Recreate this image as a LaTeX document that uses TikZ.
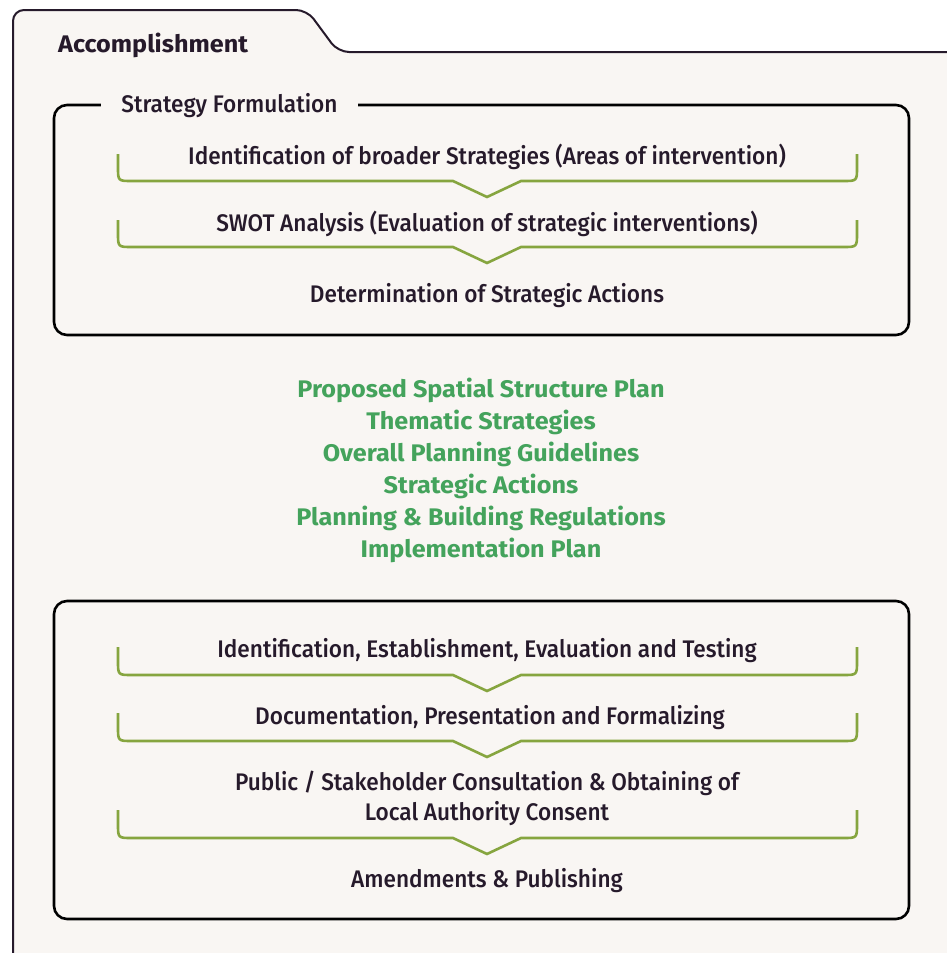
\documentclass[tikz,border=0pt]{standalone}
\usepackage{fontspec}
\setmainfont{Fira Sans}[UprightFont={* Medium}, BoldFont={* Bold}, UprightFeatures={FakeStretch=0.942}, BoldFeatures={FakeStretch=1.05}]
\definecolor{bgc}{HTML}{F9F6F3}
\definecolor{ink}{HTML}{261A2B}
\definecolor{gtext}{HTML}{44A35C}
\definecolor{gline}{HTML}{86A53F}
\tikzset{
  folder/.style={draw=ink, line width=2pt, fill=bgc, rounded corners=11pt},
  panel/.style={draw=black, line width=2.6pt, rounded corners=13pt},
  brk/.style={draw=gline, line width=2.6pt},
  body/.style={text=ink, inner sep=0pt, anchor=base, font=\fontsize{24}{28}\selectfont},
  title/.style={text=ink, inner sep=0pt, anchor=base west, font=\fontsize{24}{28}\selectfont\bfseries},
  gitem/.style={text=gtext, inner sep=0pt, anchor=base, font=\fontsize{24}{28}\selectfont\bfseries}
}
\newcommand{\brkpath}[2]{%
  \draw[brk] (118,#1) -- (118,#2-14) .. controls (118,#2) .. (132,#2) -- (453,#2) -- (487,#2+16) -- (521,#2) -- (843,#2) .. controls (857,#2) .. (857,#2-14) -- (857,#1);}
\begin{document}
\begin{tikzpicture}[x=1pt,y=-1pt]
\useasboundingbox (0,0) rectangle (946,953);
% folder
\path[folder] (13,975) -- (13,10) -- (307,10) -- (338,52) -- (975,52) -- (975,975) -- cycle;
\node[title] (acc) at (58,52) {Accomplishment};
% panel 1
\draw[panel] (54,105) rectangle (909,335);
\node[body, fill=bgc, inner xsep=20pt, inner ysep=4pt] (sf) at (229.5,112) {Strategy Formulation};
\brkpath{154}{181}
\brkpath{220}{247}
\node[body] (a1) at (487,164) {Identification of broader Strategies (Areas of intervention)};
\node[body] (a2) at (487,231) {SWOT Analysis (Evaluation of strategic interventions)};
\node[body] (a3) at (487,302) {Determination of Strategic Actions};
% green list
\node[gitem] (g1) at (481,397) {Proposed Spatial Structure Plan};
\node[gitem] (g2) at (481,429) {Thematic Strategies};
\node[gitem] (g3) at (481,461) {Overall Planning Guidelines};
\node[gitem] (g4) at (481,493) {Strategic Actions};
\node[gitem] (g5) at (481,525) {Planning \& Building Regulations};
\node[gitem] (g6) at (481,557) {Implementation Plan};
% panel 2
\draw[panel] (54,601) rectangle (909,919);
\brkpath{647}{675}
\brkpath{713}{741}
\brkpath{810}{838}
\node[body] (b1) at (487,657) {Identification, Establishment, Evaluation and Testing};
\node[body] (b2) at (490,724) {Documentation, Presentation and Formalizing};
\node[body] (b3) at (487,790) {Public / Stakeholder Consultation \& Obtaining of};
\node[body] (b4) at (487,820) {Local Authority Consent};
\node[body] (b5) at (487,887) {Amendments \& Publishing};
\end{tikzpicture}
\end{document}
